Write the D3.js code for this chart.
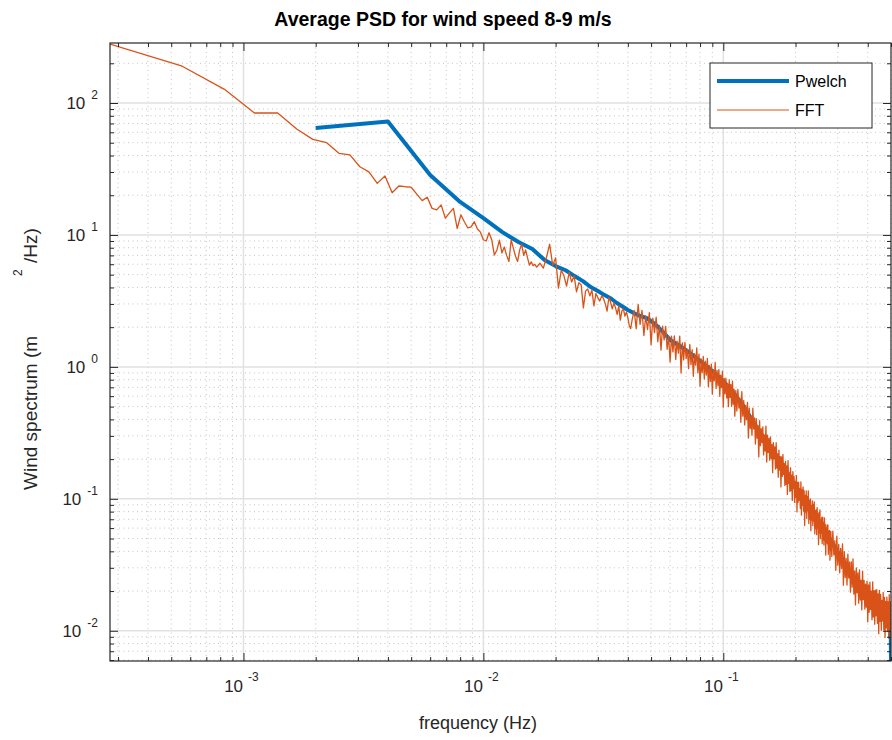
<!DOCTYPE html>
<html>
<head>
<meta charset="utf-8">
<script src="https://cdn.jsdelivr.net/npm/d3@7"></script>
<style>
    body { margin: 0; background: #fff; }
    svg { font-family: "Liberation Sans", Arial, Helvetica, sans-serif; }
</style>
</head>
<body>
<svg id="chart" width="892" height="740"></svg>
<script>
// Pwelch estimate (0.002 Hz resolution)
const pwelchFreq = [
    0.002, 0.004, 0.006, 0.008, 0.010, 0.012, 0.014, 0.016, 0.018, 0.020,
    0.022, 0.024, 0.026, 0.028, 0.030, 0.032, 0.034, 0.036, 0.038, 0.040,
    0.044, 0.048, 0.052, 0.056, 0.060, 0.066, 0.072, 0.080, 0.090, 0.100,
    0.110, 0.120, 0.140, 0.160, 0.180, 0.200, 0.250, 0.300, 0.350, 0.400,
    0.450, 0.498, 0.500
];
const pwelchValue = [
    64.6, 72.4, 28.5, 17.8, 13.4, 10.5, 8.85, 7.82, 6.45, 5.81,
    5.4, 4.88, 4.47, 4.03, 3.76, 3.5, 3.3, 3.05, 2.87, 2.7,
    2.47, 2.34, 2.11, 1.84, 1.6, 1.44, 1.29, 1.11, 0.93, 0.78,
    0.64, 0.52, 0.332, 0.238, 0.171, 0.125, 0.069, 0.0394, 0.0255, 0.0186,
    0.0151, 0.0129, 0.0059
];

// FFT estimate, frequency = bin * 1/3600 Hz
const fftResolution = 1 / 3600;

// bins 1..60
const fftStartA = 1, fftStepA = 1;
const fftValueA = [
    280, 190, 127, 84, 84, 63.5, 53, 50, 41.6, 40.4,
    32.9, 30.1, 24.6, 28, 20.9, 23.5, 23.2, 23, 20.4, 18.2,
    19.3, 15.9, 15.5, 16.9, 13.4, 14.7, 15.9, 11.2, 14.2, 12.6,
    11.3, 11.5, 12.6, 11.1, 10.5, 9.2, 9.0, 10.4, 9.2, 7.04,
    7.7, 9.15, 7.3, 8.1, 7.0, 6.3, 9.15, 7.95, 6.9, 6.3,
    7.7, 8.5, 7.0, 7.7, 6.7, 5.9, 6.25, 5.85, 6.0, 5.7
];
// bins 62..150, every 2nd
const fftStartB = 62, fftStepB = 2;
const fftValueB = [
    6.1, 5.6, 6.8, 8.5, 5.9, 6.7, 3.95, 5.4, 4.9, 4.1,
    5.2, 4.4, 4.9, 3.7, 4.35, 4.2, 2.8, 3.75, 3.9, 3.45,
    3.82, 2.9, 3.6, 3.35, 3.15, 3.45, 3.3, 3.0, 2.65, 3.35,
    3.1, 2.75, 3.05, 2.8, 2.5, 2.9, 2.26, 2.65, 2.75, 2.43,
    2.6, 2.36, 2.05, 1.95, 2.26
];
// bins 153..402, every 3rd
const fftStartC = 153, fftStepC = 3;
const fftValueC = [
    2.68, 1.95, 2.97, 2.10, 2.68, 1.73, 2.44, 1.92, 2.58, 1.47,
    2.34, 1.82, 2.38, 1.55, 2.06, 1.34, 2.04, 1.60, 2.03, 1.36,
    1.70, 1.088, 1.71, 1.30, 1.72, 1.14, 1.57, 1.27, 1.71, 0.898,
    1.52, 1.13, 1.53, 1.16, 1.36, 0.97, 1.48, 1.04, 1.35, 0.849,
    1.26, 1.03, 1.39, 0.90, 1.25, 0.715, 1.15, 0.904, 1.20, 0.81,
    1.105, 0.867, 1.16, 0.707, 1.026, 0.777, 1.05, 0.622, 0.95, 0.785,
    1.08, 0.685, 0.94, 0.72, 0.955, 0.598, 0.865, 0.696, 0.927, 0.496,
    0.818, 0.625, 0.821, 0.582, 0.746, 0.50, 0.80, 0.587, 0.737, 0.503,
    0.779, 0.522, 0.679, 0.423
];
// bins 406..1002, every 4th
const fftStartD = 406, fftStepD = 4;
const fftValueD = [
    0.662, 0.463, 0.676, 0.488, 0.581, 0.380, 0.648, 0.423, 0.556, 0.363,
    0.511, 0.397, 0.539, 0.289, 0.487, 0.341, 0.424, 0.303, 0.486, 0.338,
    0.411, 0.260, 0.406, 0.288, 0.360, 0.208, 0.391, 0.253, 0.340, 0.266,
    0.351, 0.215, 0.305, 0.230, 0.356, 0.190, 0.304, 0.225, 0.287, 0.196,
    0.295, 0.202, 0.258, 0.158, 0.267, 0.201, 0.248, 0.168, 0.266, 0.171,
    0.219, 0.146, 0.234, 0.165, 0.209, 0.123, 0.208, 0.148, 0.217, 0.153,
    0.185, 0.126, 0.192, 0.129, 0.178, 0.108, 0.195, 0.131, 0.157, 0.1136,
    0.172, 0.1156, 0.151, 0.0972, 0.161, 0.1198, 0.147, 0.0939, 0.135, 0.1025,
    0.150, 0.0795, 0.133, 0.0941, 0.134, 0.098, 0.1194, 0.0844, 0.1345, 0.0754,
    0.118, 0.0891, 0.123, 0.0808, 0.1152, 0.0627, 0.1063, 0.0794, 0.1148, 0.0710,
    0.1045, 0.081, 0.115, 0.0649, 0.0975, 0.0702, 0.100, 0.0574, 0.0893, 0.0689,
    0.0965, 0.0626, 0.0908, 0.0677, 0.0949, 0.0543, 0.0816, 0.0596, 0.0824, 0.0535,
    0.0859, 0.060, 0.0767, 0.0449, 0.0788, 0.0549, 0.0826, 0.050, 0.0688, 0.0551,
    0.0722, 0.0457, 0.0727, 0.0489, 0.066, 0.0445, 0.0718, 0.0482, 0.0641, 0.0375,
    0.0602, 0.0466, 0.0632, 0.0455, 0.0635, 0.038, 0.057, 0.0412, 0.0576, 0.0343
];
// bins 1010..1800, every 10th
const fftStartE = 1010, fftStepE = 10;
const fftValueE = [
    0.0566, 0.0366, 0.0570, 0.0375, 0.0481, 0.0287, 0.0521, 0.0315, 0.0451, 0.0275,
    0.0421, 0.0296, 0.0455, 0.0221, 0.0397, 0.0253, 0.0354, 0.0222, 0.038, 0.0251,
    0.0332, 0.0196, 0.0333, 0.0214, 0.0351, 0.019, 0.0284, 0.0157, 0.0299, 0.0194,
    0.0274, 0.0162, 0.0289, 0.0171, 0.0242, 0.0144, 0.0283, 0.0172, 0.0241, 0.0146,
    0.0226, 0.0151, 0.0238, 0.0117, 0.0223, 0.0138, 0.0234, 0.0145, 0.020, 0.0121,
    0.0235, 0.0127, 0.0201, 0.0112, 0.0203, 0.013, 0.0205, 0.0114, 0.019, 0.0095,
    0.0202, 0.0118, 0.0189, 0.0101, 0.017, 0.0119, 0.0195, 0.0102, 0.0179, 0.0089,
    0.0167, 0.0105, 0.018, 0.0099, 0.0166, 0.0088, 0.0188, 0.0103, 0.0165, 0.0089
];

// axis ticks
const xMajorTicks = [0.001, 0.01, 0.1];
const xTickExponents = ["-3", "-2", "-1"];
const yMajorTicks = [0.01, 0.1, 1, 10, 100];
const yTickExponents = ["-2", "-1", "0", "1", "2"];

const seriesNames = ["Pwelch", "FFT"];
const seriesColors = ["#0072BD", "#D95319"];

const width = 892;
const height = 740;
const plotLeft = 110, plotRight = 891, plotTop = 43, plotBottom = 661;
const axisColor = "#262626";

const svg = d3.select("#chart");

const xScale = d3.scaleLog().domain([1 / 3600, 0.5]).range([plotLeft, plotRight]);
const yScale = d3.scaleLog().domain([0.0059, 285]).range([plotBottom, plotTop]);

function isMajor(t, majors) {
    return majors.some(function (m) { return Math.abs(t - m) / m < 1e-6; });
}
const xMinorTicks = xScale.ticks().filter(function (t) { return !isMajor(t, xMajorTicks); });
const yMinorTicks = yScale.ticks().filter(function (t) { return !isMajor(t, yMajorTicks); });

// build fft points from the bin segments
function binPoints(start, step, values) {
    return values.map(function (v, i) { return { f: (start + i * step) * fftResolution, v: v }; });
}
const fftData = [].concat(
    binPoints(fftStartA, fftStepA, fftValueA),
    binPoints(fftStartB, fftStepB, fftValueB),
    binPoints(fftStartC, fftStepC, fftValueC),
    binPoints(fftStartD, fftStepD, fftValueD),
    binPoints(fftStartE, fftStepE, fftValueE)
);
const pwelchData = pwelchFreq.map(function (f, i) { return { f: f, v: pwelchValue[i] }; });

svg.append("rect").attr("width", width).attr("height", height).attr("fill", "#fff");

svg.append("clipPath").attr("id", "plot-clip")
    .append("rect")
    .attr("x", plotLeft).attr("y", plotTop)
    .attr("width", plotRight - plotLeft).attr("height", plotBottom - plotTop);

// minor grid (dotted)
const grid = svg.append("g").attr("class", "grid");
grid.selectAll(".xminor")
    .data(xMinorTicks)
    .join("line")
    .attr("x1", function (d) { return xScale(d); })
    .attr("x2", function (d) { return xScale(d); })
    .attr("y1", plotTop).attr("y2", plotBottom)
    .attr("stroke", "#c4c4c4").attr("stroke-width", 1).attr("stroke-dasharray", "1,3.5");
grid.selectAll(".yminor")
    .data(yMinorTicks)
    .join("line")
    .attr("y1", function (d) { return yScale(d); })
    .attr("y2", function (d) { return yScale(d); })
    .attr("x1", plotLeft).attr("x2", plotRight)
    .attr("stroke", "#c4c4c4").attr("stroke-width", 1).attr("stroke-dasharray", "1,3.5");

// major grid (solid, light)
grid.selectAll(".xmajor")
    .data(xMajorTicks)
    .join("line")
    .attr("x1", function (d) { return xScale(d); })
    .attr("x2", function (d) { return xScale(d); })
    .attr("y1", plotTop).attr("y2", plotBottom)
    .attr("stroke", "#e1e1e1").attr("stroke-width", 1.5);
grid.selectAll(".ymajor")
    .data(yMajorTicks)
    .join("line")
    .attr("y1", function (d) { return yScale(d); })
    .attr("y2", function (d) { return yScale(d); })
    .attr("x1", plotLeft).attr("x2", plotRight)
    .attr("stroke", "#e1e1e1").attr("stroke-width", 1.5);

// data lines
const line = d3.line()
    .x(function (d) { return xScale(d.f); })
    .y(function (d) { return yScale(d.v); });

const lines = svg.append("g").attr("clip-path", "url(#plot-clip)");
lines.append("path")
    .datum(pwelchData)
    .attr("d", line)
    .attr("fill", "none")
    .attr("stroke", seriesColors[0])
    .attr("stroke-width", 4)
    .attr("stroke-linejoin", "round");
lines.append("path")
    .datum(fftData)
    .attr("d", line)
    .attr("fill", "none")
    .attr("stroke", seriesColors[1])
    .attr("stroke-width", 1.3)
    .attr("stroke-linejoin", "round");

// ticks on all four sides, pointing inwards
function tickAxis(axis, translate, values, size) {
    const g = svg.append("g")
        .attr("transform", translate)
        .call(axis.tickValues(values).tickSize(-size).tickFormat(""));
    g.select(".domain").remove();
    g.selectAll("line").attr("stroke", axisColor).attr("stroke-width", 1);
}
tickAxis(d3.axisBottom(xScale), `translate(0, ${plotBottom})`, xMinorTicks, 4);
tickAxis(d3.axisBottom(xScale), `translate(0, ${plotBottom})`, xMajorTicks, 8);
tickAxis(d3.axisTop(xScale), `translate(0, ${plotTop})`, xMinorTicks, 4);
tickAxis(d3.axisTop(xScale), `translate(0, ${plotTop})`, xMajorTicks, 8);
tickAxis(d3.axisLeft(yScale), `translate(${plotLeft}, 0)`, yMinorTicks, 4);
tickAxis(d3.axisLeft(yScale), `translate(${plotLeft}, 0)`, yMajorTicks, 8);
tickAxis(d3.axisRight(yScale), `translate(${plotRight}, 0)`, yMinorTicks, 4);
tickAxis(d3.axisRight(yScale), `translate(${plotRight}, 0)`, yMajorTicks, 8);

// frame
svg.append("rect")
    .attr("x", plotLeft).attr("y", plotTop)
    .attr("width", plotRight - plotLeft).attr("height", plotBottom - plotTop)
    .attr("fill", "none").attr("stroke", axisColor).attr("stroke-width", 1.2);

// tick labels: 10 with superscript exponent
const xLabels = svg.append("g")
    .selectAll("text")
    .data(xMajorTicks)
    .join("text")
    .attr("x", function (d) { return xScale(d) - 2; })
    .attr("y", 692)
    .attr("text-anchor", "middle")
    .attr("font-size", 17)
    .attr("fill", axisColor);
xLabels.append("tspan").text("10");
xLabels.append("tspan")
    .attr("dx", 5).attr("dy", -11)
    .attr("font-size", 12)
    .text(function (d, i) { return xTickExponents[i]; });

const yLabels = svg.append("g")
    .selectAll("text")
    .data(yMajorTicks)
    .join("text")
    .attr("x", 98)
    .attr("y", function (d) { return yScale(d) + 6; })
    .attr("text-anchor", "end")
    .attr("font-size", 17)
    .attr("fill", axisColor);
yLabels.append("tspan").text("10");
yLabels.append("tspan")
    .attr("dx", 6).attr("dy", -10)
    .attr("font-size", 12)
    .text(function (d, i) { return yTickExponents[i]; });

// title and axis labels
svg.append("text")
    .attr("x", 443).attr("y", 26)
    .attr("text-anchor", "middle")
    .attr("font-size", 19.5)
    .attr("font-weight", "bold")
    .attr("fill", "#000")
    .text("Average PSD for wind speed 8-9 m/s");

svg.append("text")
    .attr("x", 478).attr("y", 729)
    .attr("text-anchor", "middle")
    .attr("font-size", 18)
    .attr("fill", axisColor)
    .text("frequency (Hz)");

const yTitle = svg.append("text")
    .attr("transform", "rotate(-90)")
    .attr("y", 37)
    .attr("font-size", 19)
    .attr("fill", axisColor);
yTitle.append("tspan").attr("x", -490).text("Wind spectrum (m");
yTitle.append("tspan").attr("x", -276).attr("dy", -15).attr("font-size", 12).text("2");
yTitle.append("tspan").attr("x", -263).attr("dy", 15).text("/Hz)");

// legend
const legend = svg.append("g");
legend.append("rect")
    .attr("x", 710).attr("y", 63)
    .attr("width", 162).attr("height", 65)
    .attr("fill", "#fff").attr("stroke", axisColor).attr("stroke-width", 1);
const legendRows = [81, 110];
const legendWidths = [4, 1];
seriesNames.forEach(function (name, i) {
    legend.append("line")
        .attr("x1", 717).attr("x2", 789)
        .attr("y1", legendRows[i]).attr("y2", legendRows[i])
        .attr("stroke", seriesColors[i]).attr("stroke-width", legendWidths[i]);
    legend.append("text")
        .attr("x", 795).attr("y", legendRows[i] + 5.5)
        .attr("font-size", 16)
        .attr("fill", "#000")
        .text(name);
});
</script>
</body>
</html>
